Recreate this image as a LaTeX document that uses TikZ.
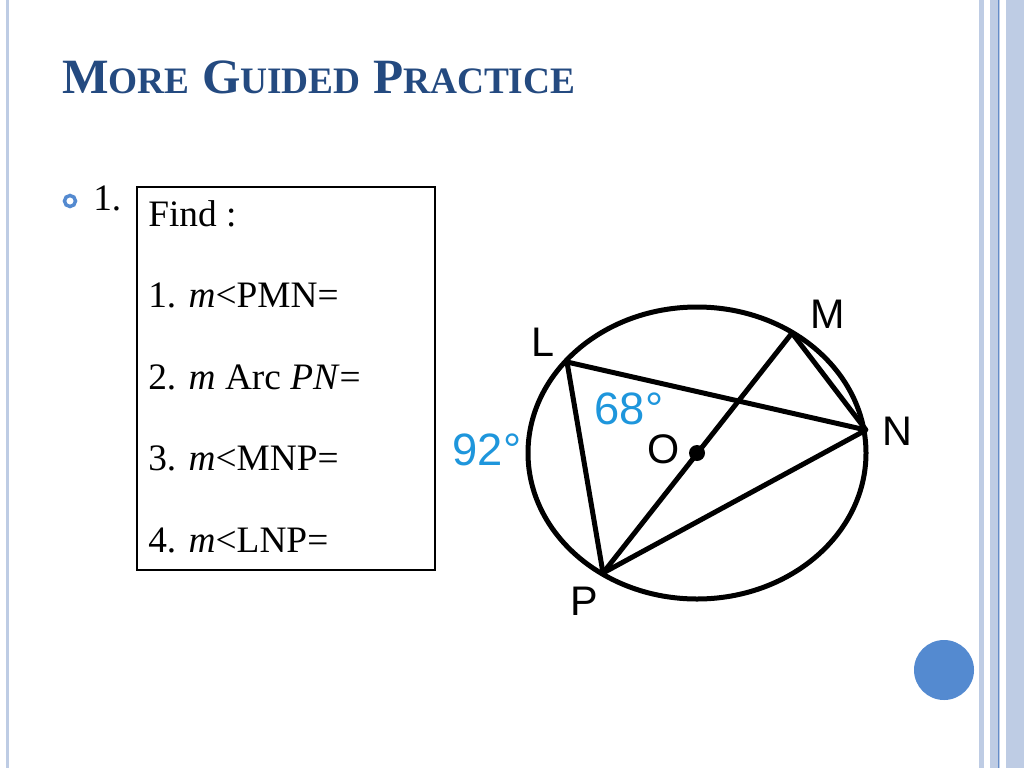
\documentclass[tikz,border=0pt]{standalone}
\usepackage{fontspec}
\setmainfont{Liberation Serif}
\newfontfamily\lsans{Liberation Sans}
\definecolor{ttl}{RGB}{36,74,128}
\definecolor{strp}{RGB}{190,204,228}
\definecolor{strd}{RGB}{100,140,200}
\definecolor{dot}{RGB}{84,138,208}
\definecolor{lbl}{RGB}{30,150,220}
\begin{document}
\begin{tikzpicture}[x=0.75pt,y=-0.75pt,
  seg/.style={line width=5pt*0.75},
  pt/.style={font=\lsans\fontsize{31}{31}\selectfont},
  deg/.style={font=\lsans\fontsize{34}{34}\selectfont,text=lbl},
  body/.style={anchor=base west,font=\fontsize{28}{28}\selectfont}]
\useasboundingbox (0,0) rectangle (1024,768);
\fill[white] (0,0) rectangle (1024,768);
\fill[strp] (6,0) rectangle (9,768);
\fill[strp] (979,0) rectangle (984,768);
\fill[strp] (990,0) rectangle (1000,768);
\fill[strd] (997.5,0) rectangle (999,768);
\fill[strp] (1006,0) rectangle (1024,768);
\node[anchor=base west,text=ttl,font=\bfseries\fontsize{37}{37}\selectfont,inner sep=0] (title) at (62,93) {M{\fontsize{28}{28}\selectfont ORE} G{\fontsize{28}{28}\selectfont UIDED} P{\fontsize{28}{28}\selectfont RACTICE}};
\draw[dot,line width=2.6pt] (70,201) circle (5.5);
\node[body,inner sep=0] (one) at (93,210) {1.};
\draw[line width=1.5pt] (137,187) rectangle (435,570);
\node[body,inner sep=0] (f) at (148,226) {Find :};
\node[body,inner sep=0] (q1) at (148,307) {1. \textit{m}<PMN=};
\node[body,inner sep=0] (q2) at (148,389) {2. \textit{m} Arc \textit{PN}=};
\node[body,inner sep=0] (q3) at (148,470) {3. \textit{m}<MNP=};
\node[body,inner sep=0] (q4) at (148,552) {4. \textit{m}<LNP=};
\draw[seg] (697,453) ellipse [x radius=169, y radius=146];
\coordinate (L) at (567,362);
\coordinate (M) at (792,333);
\coordinate (N) at (866,430);
\coordinate (P) at (603,573);
\coordinate (O) at (697,453);
\draw[seg,line join=round] (L) -- (N) -- (P) -- cycle;
\draw[seg] (M) -- (N);
\draw[seg] (M) -- (P);
\fill (O) circle (8);
\node[pt] (lL) at (543,342) {L};
\node[pt] (lM) at (828,314) {M};
\node[pt] (lN) at (897,431) {N};
\node[pt] (lP) at (584,601) {P};
\node[pt] (lO) at (664,449) {O};
\node[deg] (a68) at (629,409) {68°};
\node[deg] (a92) at (487,450) {92°};
\fill[dot] (944,670) circle (30);
\end{tikzpicture}
\end{document}
